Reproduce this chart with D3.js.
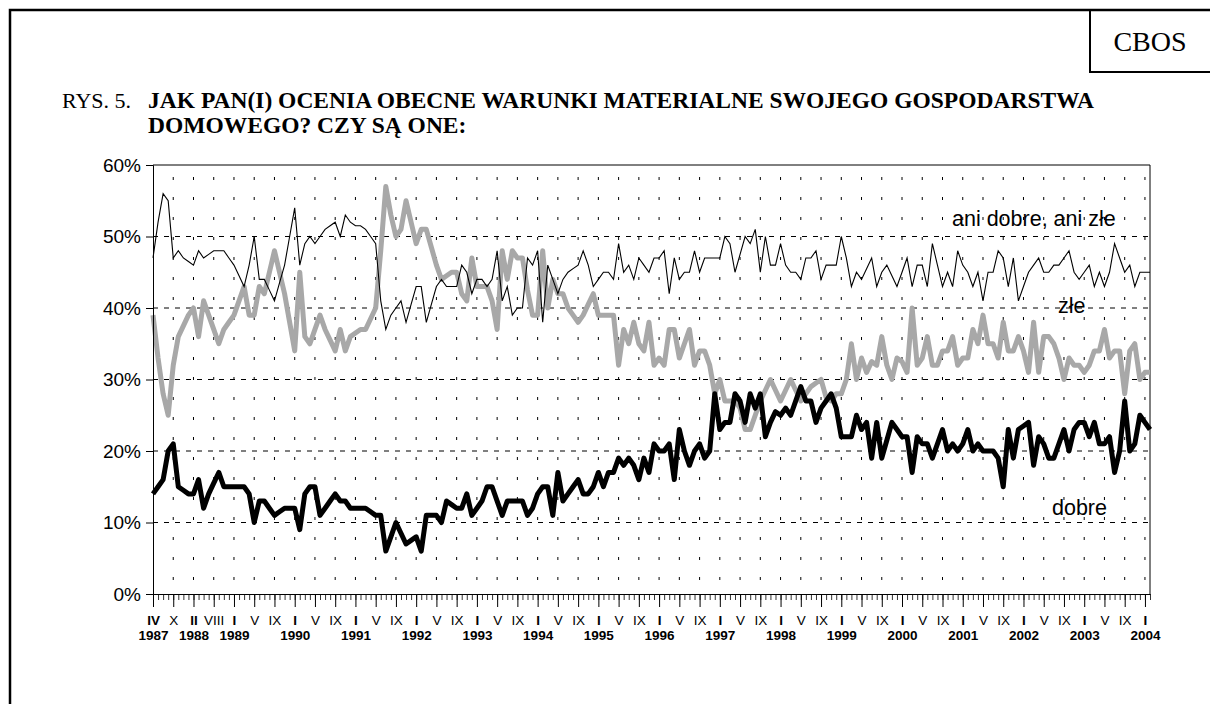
<!DOCTYPE html>
<html>
<head>
<meta charset="utf-8">
<script src="https://cdn.jsdelivr.net/npm/d3@7"></script>
<style>
  body { margin: 0; background: #fff; }
  svg { display: block; }
</style>
</head>
<body>
<div id="chart"></div>
<script>
// labels under every 4th survey (month in roman numerals, year below January)
const tickMonths = ['IV', 'X', 'II', 'VIII',
  'I', 'V', 'IX', 'I', 'V', 'IX', 'I', 'V', 'IX', 'I', 'V', 'IX', 'I', 'V', 'IX',
  'I', 'V', 'IX', 'I', 'V', 'IX', 'I', 'V', 'IX', 'I', 'V', 'IX', 'I', 'V', 'IX',
  'I', 'V', 'IX', 'I', 'V', 'IX', 'I', 'V', 'IX', 'I', 'V', 'IX', 'I', 'V', 'IX', 'I'];
const tickYears = ['1987', '', '1988', '',
  '1989', '', '', '1990', '', '', '1991', '', '', '1992', '', '', '1993', '', '',
  '1994', '', '', '1995', '', '', '1996', '', '', '1997', '', '', '1998', '', '',
  '1999', '', '', '2000', '', '', '2001', '', '', '2002', '', '', '2003', '', '', '2004'];

const yTicks = [0, 10, 20, 30, 40, 50, 60];

// percentages, one value per survey (IV 1987 ... II 2004)
const aniDobre = [
  47, 52, 56, 55, 47, 48, 47, 46.5, 46, 48, 47, 47.5, 48, 48, 48, 47, 46, 44.5, 43, 46,
  50, 44, 44, 42.5, 41, 43.5, 46, 50, 54, 46, 49, 50, 49, 50, 51, 51.5, 52, 50, 53, 52,
  51.5, 51.5, 51, 50, 49, 41, 37, 39, 40, 41, 38, 40.5, 43, 43, 38, 40.5, 43, 44, 43, 43,
  43, 46, 45, 42, 44, 44, 43, 44, 48, 41, 43, 39, 40, 40, 47, 46, 48, 38, 46, 44,
  42, 44, 45, 45.5, 46, 48, 46, 43, 44, 45, 45, 44, 49, 45, 46, 44, 47, 46, 45, 47,
  47, 48, 42, 47, 44, 45, 45, 48, 45, 47, 47, 47, 47, 50, 49, 45, 47.5, 50, 49, 51,
  45, 50, 46, 46, 49, 46, 45, 45, 44, 47, 47, 48, 44, 46, 46, 46, 50, 47, 43, 45,
  44, 45.5, 47, 43, 45, 46, 44.5, 43, 45, 47, 43, 46, 46, 43, 49, 46, 43, 45, 43, 48,
  46, 45, 43, 45, 41, 45, 45, 48, 47, 43, 47, 41, 43, 45, 46, 47, 45, 45, 46, 46,
  47, 48, 45, 44, 45, 46, 43, 45, 43, 45, 49, 47, 45, 46, 43, 45, 45, 45
];
const zle = [
  39, 33, 28, 25, 32, 36, 37.5, 39, 40, 36, 41, 39, 37, 35, 37, 38, 39, 41, 43, 39,
  39, 43, 42, 45, 48, 45, 42, 38, 34, 45, 36, 35, 37, 39, 37, 35.5, 34, 37, 34, 36,
  36.5, 37, 37, 38.5, 40, 48, 57, 53, 50, 51, 55, 52, 49, 51, 51, 48.5, 46, 44, 44.5, 45,
  45, 42, 41, 47, 43, 43, 43, 41, 37, 48, 44, 48, 47, 47, 42.5, 39, 39, 48, 40, 44,
  42, 42, 40, 39, 38, 39, 40.5, 42, 39, 39, 39, 39, 32, 37, 35, 38, 35, 34, 38, 32,
  33, 32, 37, 37, 33, 35, 37, 32, 34, 34, 32, 28, 30, 27, 27, 27, 26, 23, 23, 25,
  27, 28.5, 30, 28.5, 27, 28.5, 30, 28.5, 27, 28, 29, 29.5, 30, 27.5, 27, 28, 28, 30, 35, 30,
  33, 31, 32.5, 32, 36, 32, 30, 33, 32.5, 31, 40, 32, 33, 36, 32, 32, 34, 34, 36, 32,
  33, 33, 37, 35, 39, 35, 35, 33, 38, 34, 34, 36, 34, 31, 38, 31, 36, 36, 35, 33,
  30, 33, 32, 32, 31, 32, 34, 34, 37, 33, 34, 34, 28, 34, 35, 30, 31, 31
];
const dobre = [
  14, 15, 16, 20, 21, 15, 14.5, 14, 14, 16, 12, 14, 15.5, 17, 15, 15, 15, 15, 15, 14,
  10, 13, 13, 12, 11, 11.5, 12, 12, 12, 9, 14, 15, 15, 11, 12, 13, 14, 13, 13, 12,
  12, 12, 12, 11.5, 11, 11, 6, 8, 10, 8.5, 7, 7.5, 8, 6, 11, 11, 11, 10, 13, 12.5,
  12, 12, 14, 11, 12, 13, 15, 15, 13, 11, 13, 13, 13, 13, 11, 12, 14, 15, 15, 11,
  17, 13, 14, 15, 16, 14, 14, 15, 17, 15, 17, 17, 19, 18, 19, 18, 16, 19, 17, 21,
  20, 20, 21, 16, 23, 20, 18, 20, 21, 19, 20, 28, 23, 24, 24, 28, 27, 24, 28, 26,
  28, 22, 24, 25.5, 25, 26, 25, 27, 29, 27, 27, 24, 26, 27, 28, 26, 22, 22, 22, 25,
  23, 24, 19, 24, 19, 21.5, 24, 23, 22, 22, 17, 22, 21, 21, 19, 21, 23, 20, 21, 20,
  21, 23, 20, 21, 20, 20, 20, 19, 15, 23, 19, 23, 23.5, 24, 18, 22, 21, 19, 19, 21,
  23, 20, 23, 24, 24, 22, 24, 21, 21, 22, 17, 20, 27, 20, 21, 25, 24, 23
];

const seriesLabels = ['ani dobre, ani złe', 'złe', 'dobre'];

const width = 1210;
const height = 704;
const plotBox = { left: 153, right: 1150, top: 165, bottom: 594 };
const sansFont = '"Liberation Sans", Arial, sans-serif';
const serifFont = '"Liberation Serif", "Times New Roman", serif';

const svg = d3.select('#chart')
  .append('svg')
  .attr('width', width)
  .attr('height', height);

// page frame and the CBOS box
svg.append('path')
  .attr('d', `M10,${height} L10,10 L${width},10`)
  .attr('fill', 'none')
  .attr('stroke', '#000')
  .attr('stroke-width', 2.5);

svg.append('path')
  .attr('d', `M1090,10 L1090,72 L${width},72`)
  .attr('fill', 'none')
  .attr('stroke', '#000')
  .attr('stroke-width', 2);

svg.append('text')
  .attr('x', 1150)
  .attr('y', 51)
  .attr('text-anchor', 'middle')
  .attr('font-family', serifFont)
  .attr('font-size', 28)
  .text('CBOS');

// title
svg.append('text')
  .attr('x', 62)
  .attr('y', 108)
  .attr('font-family', serifFont)
  .attr('font-size', 22)
  .text('RYS. 5.');

const title = svg.append('text')
  .attr('font-family', serifFont)
  .attr('font-size', 23.5)
  .attr('font-weight', 700);
title.append('tspan').attr('x', 148).attr('y', 108)
  .text('JAK PAN(I) OCENIA OBECNE WARUNKI MATERIALNE SWOJEGO GOSPODARSTWA');
title.append('tspan').attr('x', 148).attr('y', 133)
  .text('DOMOWEGO? CZY SĄ ONE:');

const x = d3.scaleLinear()
  .domain([0, dobre.length - 1])
  .range([plotBox.left, plotBox.right]);

const y = d3.scaleLinear()
  .domain([0, 60])
  .range([plotBox.bottom, plotBox.top]);

const majorIdx = tickMonths.map((m, k) => k * 4);

// gridlines
svg.append('g')
  .selectAll('line')
  .data(yTicks.filter((t) => t > 0 && t < 60))
  .join('line')
  .attr('x1', plotBox.left)
  .attr('x2', plotBox.right)
  .attr('y1', (d) => y(d))
  .attr('y2', (d) => y(d))
  .attr('stroke', '#000')
  .attr('stroke-width', 1)
  .attr('stroke-dasharray', '5 6');

svg.append('g')
  .selectAll('line')
  .data(majorIdx.slice(1))
  .join('line')
  .attr('x1', (d) => x(d))
  .attr('x2', (d) => x(d))
  .attr('y1', plotBox.top)
  .attr('y2', plotBox.bottom)
  .attr('stroke', '#000')
  .attr('stroke-width', 1)
  .attr('stroke-dasharray', '3 17')
  .attr('stroke-dashoffset', -12);

// plot frame top and right
svg.append('path')
  .attr('d', `M${plotBox.left},${plotBox.top} L${plotBox.right},${plotBox.top} L${plotBox.right},${plotBox.bottom}`)
  .attr('fill', 'none')
  .attr('stroke', '#000')
  .attr('stroke-width', 1);

// lines
const line = (values) => d3.line()
  .x((d, i) => x(i))
  .y((d) => y(d))(values);

svg.append('path')
  .attr('d', line(zle))
  .attr('fill', 'none')
  .attr('stroke', '#a8a8a8')
  .attr('stroke-width', 5)
  .attr('stroke-linejoin', 'round');

svg.append('path')
  .attr('d', line(dobre))
  .attr('fill', 'none')
  .attr('stroke', '#000')
  .attr('stroke-width', 5)
  .attr('stroke-linejoin', 'round');

svg.append('path')
  .attr('d', line(aniDobre))
  .attr('fill', 'none')
  .attr('stroke', '#000')
  .attr('stroke-width', 1.1);

// axes
const yAxis = svg.append('g')
  .attr('transform', `translate(${plotBox.left},0)`)
  .call(d3.axisLeft(y).tickValues(yTicks).tickSize(7).tickPadding(5).tickFormat((d) => d + '%'));
yAxis.select('.domain').attr('stroke', '#000');
yAxis.selectAll('text')
  .attr('font-family', sansFont)
  .attr('font-size', 19)
  .attr('fill', '#000');

const xMinor = svg.append('g')
  .attr('transform', `translate(0,${plotBox.bottom})`)
  .call(d3.axisBottom(x).tickValues(d3.range(dobre.length)).tickSize(6).tickFormat(''));
xMinor.select('.domain').remove();
xMinor.selectAll('line').attr('stroke', '#333');

const xMajor = svg.append('g')
  .attr('transform', `translate(0,${plotBox.bottom})`)
  .call(d3.axisBottom(x).tickValues(majorIdx).tickSize(13).tickSizeOuter(0).tickFormat(''));
xMajor.select('.domain').attr('stroke', '#000');

xMajor.selectAll('.tick')
  .append('text')
  .attr('y', 31)
  .attr('fill', '#000')
  .attr('font-family', sansFont)
  .attr('font-size', 13.5)
  .attr('font-weight', (d, k) => (tickYears[k] ? 700 : 400))
  .text((d, k) => tickMonths[k]);

xMajor.selectAll('.tick')
  .append('text')
  .attr('y', 46)
  .attr('fill', '#000')
  .attr('font-family', sansFont)
  .attr('font-size', 13.5)
  .attr('font-weight', 700)
  .text((d, k) => tickYears[k]);

// series labels
const labelPos = [
  { x: 952, y: 226 },
  { x: 1058, y: 313 },
  { x: 1052, y: 515 }
];
svg.append('g')
  .selectAll('text')
  .data(seriesLabels)
  .join('text')
  .attr('x', (d, i) => labelPos[i].x)
  .attr('y', (d, i) => labelPos[i].y)
  .attr('font-family', sansFont)
  .attr('font-size', 21.5)
  .attr('fill', '#000')
  .text((d) => d);
</script>
</body>
</html>
